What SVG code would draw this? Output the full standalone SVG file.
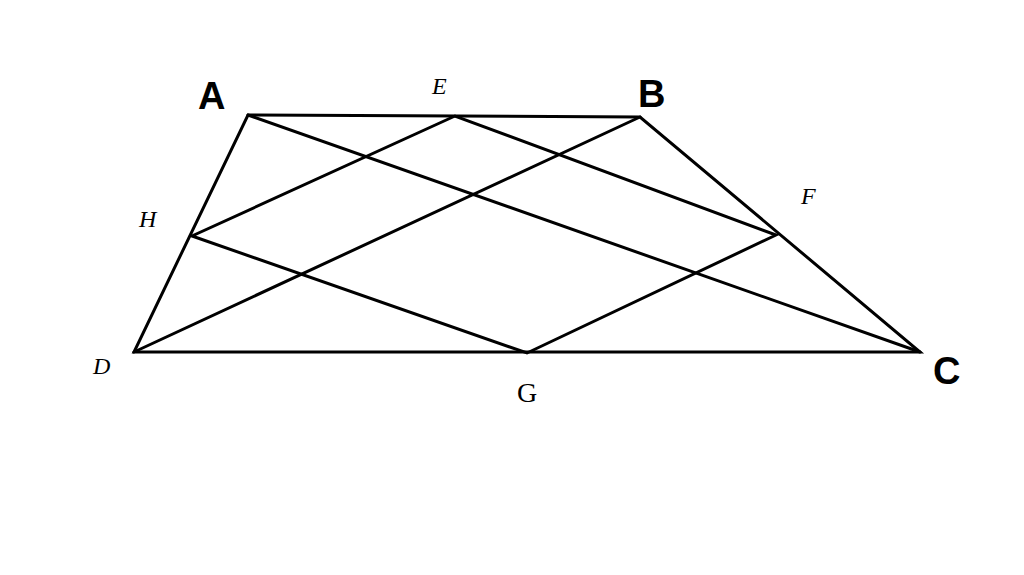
<svg xmlns="http://www.w3.org/2000/svg" width="1024" height="575" viewBox="0 0 1024 575">
<style>
.l{stroke:#000;stroke-width:3;fill:none;stroke-linecap:round}
.big{font-family:"Liberation Sans",Arial,sans-serif;font-weight:bold;font-size:38px}
.it{font-family:"Liberation Serif","Times New Roman",serif;font-style:italic;font-size:24px}
</style>
<rect width="1024" height="575" fill="#fff"/>
<g id="connectors">
<path class="l" d="M248 115 L640 117 L920 352 L134 352 Z"/>
<path class="l" d="M248 115 L920 352 M640 117 L134 352"/>
<path class="l" d="M455 116 L192 236 L527 353 L776 235 Z"/>
</g>
<g id="labels">
<text class="big" x="198" y="109">A</text>
<text class="big" x="638" y="107">B</text>
<text class="big" x="933" y="384">C</text>
<text class="it" x="93" y="374">D</text>
<text class="it" x="432" y="94">E</text>
<text class="it" x="801" y="204">F</text>
<text x="517" y="402" font-family="Liberation Serif,serif" font-size="28">G</text>
<text class="it" x="139" y="227">H</text>
</g>
</svg>
